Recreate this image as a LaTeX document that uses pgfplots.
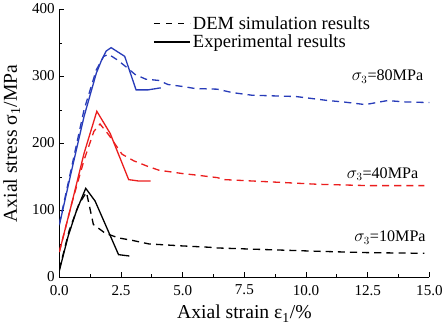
\documentclass[border=0pt]{standalone}
\usepackage{pgfplots}
\pgfplotsset{compat=1.18}
\usepackage{fontspec}
\setmainfont{Liberation Serif}
\definecolor{cblue}{RGB}{40,60,185}
\definecolor{cred}{RGB}{235,30,30}
\begin{document}
\begin{tikzpicture}
\begin{axis}[
  scale only axis, width=366bp, height=265bp,
  xmin=0, xmax=15, ymin=0, ymax=400,
  axis x line*=bottom, axis y line*=left,
  axis line style={line width=0.8pt},
  xtick={0,2.5,...,15}, ytick={0,100,...,400},
  minor x tick num=1, minor y tick num=1,
  tick align=inside, major tick length=5bp, minor tick length=3bp,
  tick style={line width=0.8pt, black},
  /pgf/number format/assume math mode=true,
  xticklabel style={/pgf/number format/.cd, fixed, fixed zerofill, precision=1, /tikz/.cd, yshift=-4bp},
  yticklabel style={/pgf/number format/.cd, fixed, precision=0, /tikz/.cd, xshift=-1bp, yshift=1bp},
  ticklabel style={font=\fontsize{15}{17}\selectfont},
  xlabel={Axial strain ε\textsubscript{1}/\%},
  ylabel={Axial stress σ\textsubscript{1}/MPa},
  label style={font=\fontsize{19.5}{21}\selectfont},
  xlabel style={yshift=-3bp},
  ylabel style={yshift=5bp},
  legend style={draw=none, fill=none, at={(0.245,0.99)}, anchor=north west,
    font=\fontsize{18.4}{20}\selectfont, row sep=0bp,
    /tikz/every even column/.append style={column sep=2bp}},
  legend image code/.code={\draw[#1] (0bp,0bp) -- (36bp,0bp);},
  legend cell align=left,
  every axis plot/.append style={line width=1.3pt},
]
\addlegendimage{black, dash pattern=on 6bp off 6bp, line width=1.3pt}
\addlegendentry{DEM simulation results}
\addlegendimage{black, line width=1.3pt}
\addlegendentry{Experimental results}
% blue DEM
\addplot[cblue, dash pattern=on 7bp off 5bp, forget plot] coordinates {
(0,80) (0.5,165) (1.0,250) (1.5,310) (1.8,330) (2.0,333) (2.34,325) (2.75,313) (3.07,303) (3.5,296) (4.04,294) (4.4,288) (5.0,285) (5.5,282) (6.4,281) (7.0,276) (7.8,272) (9.6,270) (10.9,264) (11.5,262) (12.4,258) (13.3,264) (14.0,262) (15.0,261)};
% blue experiment
\addplot[cblue, forget plot] coordinates {
(0,78) (0.5,160) (1.0,240) (1.5,305) (1.72,325) (1.9,338) (2.1,343) (2.65,330) (3.11,280) (3.6,280) (4.11,283)};
% red DEM
\addplot[cred, dash pattern=on 7bp off 5bp, forget plot] coordinates {
(0,38) (0.5,110) (1.0,175) (1.4,218) (1.65,229) (2.0,213) (2.54,184) (3.02,174) (3.57,166) (4.04,160) (5.0,155) (5.5,153) (6.4,149) (6.7,146) (8.9,142) (10.5,139) (12.6,137) (14.8,137)};
% red experiment
\addplot[cred, forget plot] coordinates {
(0,38) (0.5,110) (1.0,185) (1.52,248) (2.06,215) (2.81,146) (3.2,144) (3.7,144)};
% black DEM
\addplot[black, dash pattern=on 7bp off 5bp, forget plot] coordinates {
(0,12) (0.4,70) (0.8,110) (1.1,127) (1.38,79) (1.86,66) (2.4,59) (3.0,55) (3.63,50) (4.1,49) (5.0,47) (6.1,45) (6.4,44) (8.0,42) (10.5,39) (12.5,37) (14.8,36)};
% black experiment
\addplot[black, forget plot] coordinates {
(0,10) (0.36,62) (0.7,100) (1.07,133) (1.45,114) (2.40,34) (2.84,32)};
\node[font=\fontsize{16}{18}\selectfont] at (axis cs:13.3,300) {$\sigma_3$=80MPa};
\node[font=\fontsize{16}{18}\selectfont] at (axis cs:13.1,154) {$\sigma_3$=40MPa};
\node[font=\fontsize{16}{18}\selectfont] at (axis cs:13.4,59) {$\sigma_3$=10MPa};
\end{axis}
\end{tikzpicture}
\end{document}
